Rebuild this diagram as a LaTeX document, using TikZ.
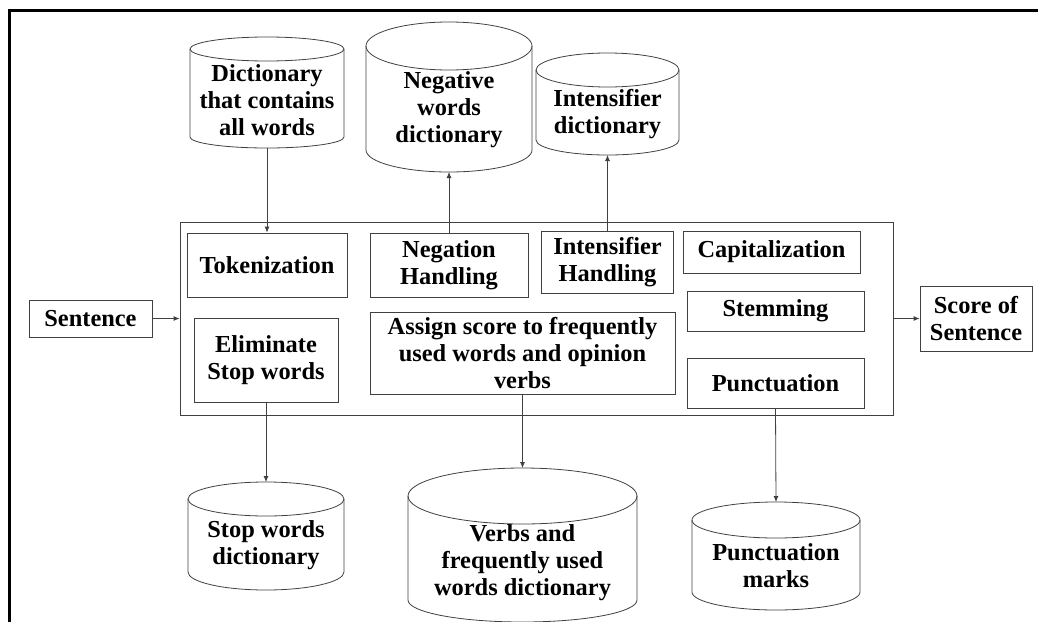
\documentclass[tikz,border=0pt]{standalone}
\usepackage{fontspec}
\setmainfont{Liberation Serif}
\usetikzlibrary{arrows.meta}

\tikzset{
  box/.style={draw=black!75, line width=0.8pt, inner sep=0pt, align=center,
    font=\bfseries\fontsize{24.4}{27}\selectfont},
  dbtext/.style={inner sep=0pt, align=center,
    font=\bfseries\fontsize{24.4}{27}\selectfont},
  drum/.style={draw=black!75, line width=0.8pt},
  flow/.style={draw=black!75, line width=0.8pt, -{Latex[length=6pt,width=5pt]}}
}

\begin{document}
\begin{tikzpicture}[x=1pt, y=1pt]
		\useasboundingbox (0,0) rectangle (1038,-621);
		% outer frame
		\draw[line width=3pt] (9,-622) -- (9,-10) -- (1039,-10);
		% processing block
		\node[box, minimum width=713, minimum height=193] (pipe) at (536.5,-318.5) {};
		\node[box, minimum width=160, minimum height=64] (tok) at (267,-265) {Tokenization};
		\node[box, minimum width=158, minimum height=64] (neg) at (449,-265) {Negation\\Handling};
		\node[box, minimum width=132, minimum height=62] (int) at (607.5,-262) {Intensifier\\Handling};
		\node[box, minimum width=177, minimum height=42] (cap) at (771.5,-252) {Capitalization};
		\node[box, minimum width=177, minimum height=40] (stem) at (775.5,-311) {Stemming};
		\node[box, minimum width=177, minimum height=50] (punc) at (775.5,-383) {Punctuation};
		\node[box, minimum width=305, minimum height=82] (score) at (522.5,-353) {Assign score to frequently\\used words and opinion\\verbs};
		\node[box, minimum width=144, minimum height=84] (stop) at (266,-360) {Eliminate\\Stop words};
		% input and output
		\node[box, minimum width=123, minimum height=37] (sent) at (90.5,-318.5) {Sentence};
		\node[box, minimum width=112, minimum height=65] (out) at (976,-318.5) {Score of\\Sentence};
		% dictionaries on top
		\draw[drum] (190,-49) -- (190,-137) arc[start angle=180, end angle=360, x radius=77, y radius=11] -- (344,-49);
		\draw[drum] (267,-49) ellipse [x radius=77, y radius=12];
		\coordinate (alldictbot) at (267,-148);
		\node[dbtext] (alldict) at (267,-100) {Dictionary\\that contains\\all words};
		\draw[drum] (366,-46) -- (366,-150) arc[start angle=180, end angle=360, x radius=83, y radius=22] -- (532,-46);
		\draw[drum] (449,-46) ellipse [x radius=83, y radius=24];
		\coordinate (negdictbot) at (449,-172);
		\node[dbtext] (negdict) at (449,-110) {Negative\\words\\dictionary};
		\draw[drum] (536,-70) -- (536,-140) arc[start angle=180, end angle=360, x radius=71.5, y radius=15] -- (679,-70);
		\draw[drum] (607.5,-70) ellipse [x radius=71.5, y radius=17];
		\coordinate (intdictbot) at (607.5,-155);
		\node[dbtext] (intdict) at (607.5,-114) {Intensifier\\dictionary};
		% dictionaries below
		\draw[drum] (188,-499) -- (188,-572) arc[start angle=180, end angle=360, x radius=78, y radius=18] -- (344,-499);
		\draw[drum] (266,-499) ellipse [x radius=78, y radius=17];
		\coordinate (stopdicttop) at (266,-482);
		\node[dbtext] (stopdict) at (266,-545) {Stop words\\dictionary};
		\draw[drum] (408,-496) -- (408,-600) arc[start angle=180, end angle=360, x radius=114.5, y radius=22] -- (637,-496);
		\draw[drum] (522.5,-496) ellipse [x radius=114.5, y radius=28];
		\coordinate (verbdicttop) at (522.5,-468);
		\node[dbtext] (verbdict) at (522.5,-563) {Verbs and\\frequently used\\words dictionary};
		\draw[drum] (692,-520) -- (692,-592) arc[start angle=180, end angle=360, x radius=84, y radius=18] -- (860,-520);
		\draw[drum] (776,-520) ellipse [x radius=84, y radius=18];
		\coordinate (puncdicttop) at (776,-502);
		\node[dbtext] (puncdict) at (776,-566) {Punctuation\\marks};
		% connectors
		\draw[flow] (sent) -- (pipe.west);
		\draw[flow] (pipe.east) -- (out);
		\draw[flow] (alldictbot) -- (tok.north);
		\draw[flow] (neg.north) -- (negdictbot);
		\draw[flow] (int.north) -- (intdictbot);
		\draw[flow] (stop.south) -- (stopdicttop);
		\draw[flow] (score.south) -- (verbdicttop);
		\draw[flow] (punc.south) -- (puncdicttop);
	\end{tikzpicture}
\end{document}
